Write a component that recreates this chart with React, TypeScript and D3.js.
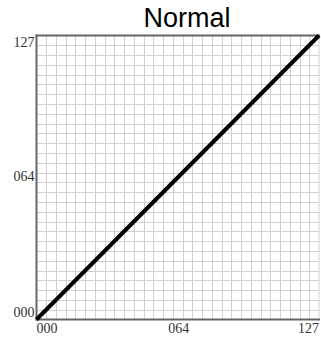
import React from "react";
import * as d3 from "d3";

const title = "Normal";
const lineX = [0, 127];
const lineY = [0, 127];
const tickValues = [0, 64, 127];
const tickLabels = ["000", "064", "127"];
const gridDivisions = 29;

const W = 321;
const H = 341;
const left = 36.5;
const right = 319;
const top = 35.5;
const bottom = 319.5;

export default function App() {
  const x = d3.scaleLinear().domain([0, 127]).range([left, right]);
  const y = d3.scaleLinear().domain([0, 127]).range([bottom, top]);
  const gridPos = d3.range(1, gridDivisions).map((i) => (i * 127) / gridDivisions);
  const line = d3
    .line<number>()
    .x((d, i) => x(lineX[i]))
    .y((d, i) => y(lineY[i]));

  return (
    <svg
      width={W}
      height={H}
      style={{ position: "absolute", left: 0, top: 0, background: "#fff" }}
    >
      <text
        x={187}
        y={27}
        textAnchor="middle"
        fontFamily="Liberation Sans, Arial, sans-serif"
        fontSize={27}
        fill="#000"
      >
        {title}
      </text>
      <g stroke="#d0d0d0" strokeWidth={1}>
        {gridPos.map((g, i) => (
          <line key={"v" + i} x1={Math.round(x(g)) + 0.5} x2={Math.round(x(g)) + 0.5} y1={top} y2={bottom} />
        ))}
        {gridPos.map((g, i) => (
          <line key={"h" + i} x1={left} x2={right} y1={Math.round(y(g)) + 0.5} y2={Math.round(y(g)) + 0.5} />
        ))}
        <line x1={right} x2={right} y1={top} y2={bottom} />
      </g>
      <g stroke="#666" strokeWidth={2} fill="none">
        <line x1={left} x2={left} y1={top - 1} y2={bottom + 1} />
        <line x1={left - 1} x2={right + 1} y1={top} y2={top} />
        <line x1={left - 1} x2={right + 1} y1={bottom} y2={bottom} />
      </g>
      <path d={line(lineX) || ""} stroke="#000" strokeWidth={4} fill="none" />
      <g fontFamily="Liberation Serif, DejaVu Serif, serif" fontSize={14} fill="#333">
        {tickValues.map((v, i) => (
          <text
            key={"y" + i}
            x={left - 2}
            y={y(v)}
            textAnchor="end"
            dy={i === 0 ? "-0.2em" : i === tickValues.length - 1 ? "0.85em" : "0.35em"}
          >
            {tickLabels[i]}
          </text>
        ))}
        {tickValues.map((v, i) => (
          <text
            key={"x" + i}
            x={x(v)}
            y={bottom + 13}
            textAnchor={i === 0 ? "start" : i === tickValues.length - 1 ? "end" : "middle"}
          >
            {tickLabels[i]}
          </text>
        ))}
      </g>
    </svg>
  );
}
